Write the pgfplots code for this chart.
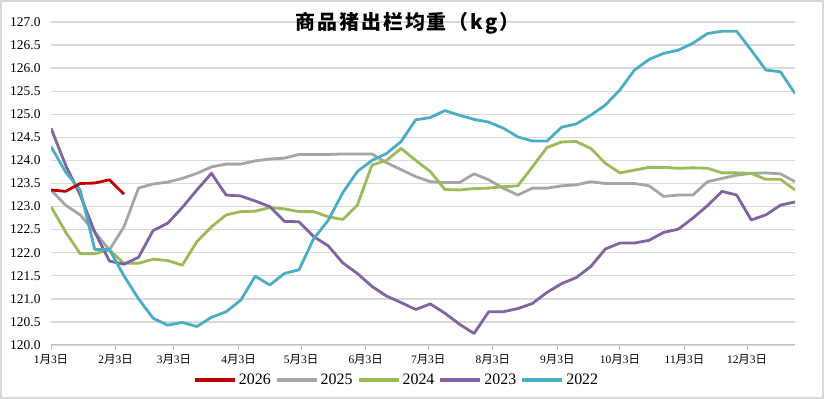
\documentclass[border=0pt]{standalone}
\usepackage{pgfplots}
\pgfplotsset{compat=1.18}
\usepackage{pgfplotstable}
\usepackage{fontspec}
\setmainfont{Liberation Serif}
\newfontfamily\cjk{Noto Sans CJK SC}
\newfontfamily\cjktitle[LetterSpace=10]{Noto Sans CJK SC}
\definecolor{c26}{HTML}{C00000}
\definecolor{c25}{HTML}{A5A5A5}
\definecolor{c24}{HTML}{9BBB59}
\definecolor{c23}{HTML}{8064A2}
\definecolor{c22}{HTML}{4BACC6}
\definecolor{gridc}{HTML}{D9D9D9}
\definecolor{axisc}{HTML}{BFBFBF}

\pgfplotstableread{
x y25 y24 y23 y22
0 123.36 123.00 124.70 124.30
7 123.03 122.45 123.90 123.75
14 122.82 121.98 123.25 123.36
21 122.45 121.98 122.45 122.07
28 122.06 122.06 121.82 122.07
35 122.56 121.77 121.75 121.50
42 123.40 121.77 121.90 121.00
49 123.49 121.86 122.48 120.58
56 123.53 121.83 122.64 120.43
63 123.61 121.73 122.98 120.49
70 123.72 122.24 123.36 120.40
77 123.86 122.56 123.72 120.60
84 123.92 122.82 123.25 120.72
91 123.92 122.89 123.23 120.97
98 123.99 122.90 123.12 121.49
105 124.03 122.98 123.00 121.30
112 124.05 122.95 122.68 121.55
119 124.13 122.89 122.67 121.63
126 124.13 122.89 122.35 122.30
133 124.13 122.78 122.15 122.70
140 124.14 122.72 121.78 123.30
147 124.14 123.03 121.55 123.76
154 124.14 123.90 121.27 124.00
161 123.95 124.00 121.06 124.15
168 123.80 124.26 120.92 124.41
175 123.65 124.00 120.77 124.88
182 123.54 123.76 120.89 124.93
189 123.52 123.37 120.69 125.08
196 123.52 123.36 120.45 124.98
203 123.71 123.39 120.25 124.89
210 123.58 123.40 120.72 124.83
217 123.40 123.43 120.72 124.70
224 123.25 123.45 120.79 124.51
231 123.40 123.86 120.90 124.42
238 123.40 124.28 121.14 124.42
245 123.45 124.40 121.33 124.72
252 123.47 124.41 121.46 124.79
259 123.54 124.26 121.70 124.98
266 123.50 123.94 122.08 125.20
273 123.50 123.73 122.21 125.53
280 123.50 123.79 122.21 125.96
287 123.45 123.85 122.27 126.19
294 123.22 123.85 122.44 126.32
301 123.25 123.83 122.51 126.39
308 123.25 123.84 122.75 126.54
315 123.54 123.83 123.02 126.75
322 123.61 123.73 123.33 126.80
329 123.68 123.73 123.25 126.80
336 123.72 123.72 122.71 126.39
343 123.73 123.59 122.82 125.96
350 123.71 123.59 123.03 125.92
357 123.54 123.36 123.10 125.45
}\datatab

\pgfplotstableread{
x y
0 123.36
7 123.33
14 123.50
21 123.51
28 123.58
35 123.27
}\datanew

\begin{document}
\begin{tikzpicture}
\useasboundingbox (0,0) rectangle (824bp,399bp);
\draw[gridc, line width=1.5bp] (1bp,1bp) rectangle (823bp,398bp);
\begin{axis}[
  at={(51bp,54bp)}, anchor=south west,
  scale only axis, width=744bp, height=323bp,
  xmin=0, xmax=357, ymin=120, ymax=127,
  xtick={0,31,59,90,120,151,181,212,243,273,304,334},
  xticklabels={1{\cjk 月}3{\cjk 日},2{\cjk 月}3{\cjk 日},3{\cjk 月}3{\cjk 日},4{\cjk 月}3{\cjk 日},5{\cjk 月}3{\cjk 日},6{\cjk 月}3{\cjk 日},7{\cjk 月}3{\cjk 日},8{\cjk 月}3{\cjk 日},9{\cjk 月}3{\cjk 日},10{\cjk 月}3{\cjk 日},11{\cjk 月}3{\cjk 日},12{\cjk 月}3{\cjk 日}},
  ytick={120,120.5,...,127},
  yticklabel={\pgfmathprintnumber[fixed,fixed zerofill,precision=1]{\tick}},
  /pgf/number format/assume math mode=true,
  axis lines*=left,
  y axis line style={draw=none},
  x axis line style={draw=axisc, line width=1bp},
  ymajorgrids, grid style={gridc, line width=1.3bp},
  tick align=outside, major tick length=5bp,
  xtick style={draw=axisc, line width=1bp},
  ytick style={draw=none},
  yticklabel style={font=\fontsize{13.5}{14}\selectfont, xshift=-2bp},
  xticklabel style={font=\fontsize{11.5}{12}\selectfont, yshift=-1bp},
  title={商品猪出栏均重（kg）},
  title style={at={(0.479,0.978)}, anchor=center, font=\cjktitle\bfseries\fontsize{20}{20}\selectfont},
  legend style={at={(0.4644,-0.108)}, anchor=center, draw=none, fill=none,
    font=\fontsize{16}{16}\selectfont, legend columns=5,
    /tikz/every even column/.append style={column sep=2bp}},
  legend image code/.code={\draw[#1, line width=4bp] (0bp,0bp) -- (40bp,0bp);},
  every axis plot/.append style={line width=2.8bp, line join=round, no markers},
]
\addlegendimage{c26}
\addlegendentry{2026}
\addplot[c25] table[x=x, y=y25] {\datatab};
\addlegendentry{2025}
\addplot[c24] table[x=x, y=y24] {\datatab};
\addlegendentry{2024}
\addplot[c23] table[x=x, y=y23] {\datatab};
\addlegendentry{2023}
\addplot[c22] table[x=x, y=y22] {\datatab};
\addlegendentry{2022}
\addplot[c26, forget plot] table[x=x, y=y] {\datanew};
\end{axis}
\end{tikzpicture}
\end{document}
